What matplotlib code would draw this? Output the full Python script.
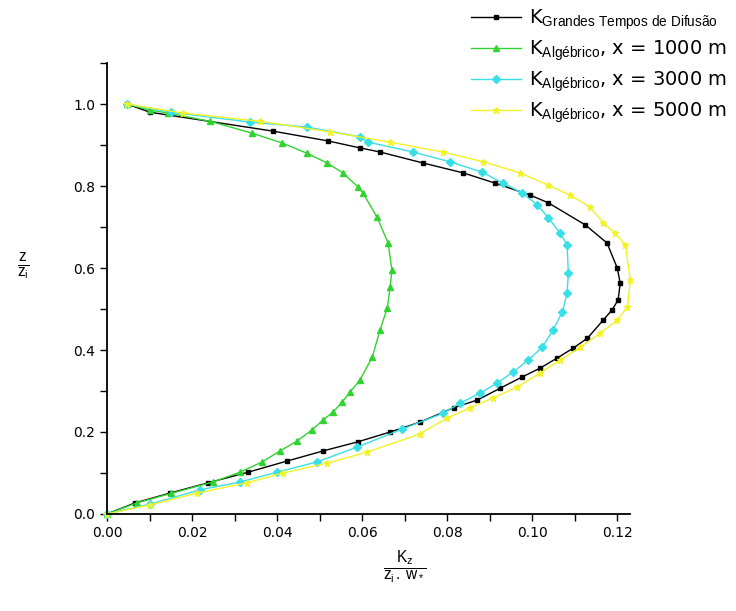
import numpy as np
import matplotlib
matplotlib.use("Agg")
import matplotlib.pyplot as plt
from matplotlib.ticker import MultipleLocator, FormatStrFormatter

plt.rcParams['font.family'] = ['DejaVu Sans']
plt.rcParams['mathtext.fontset'] = 'custom'
plt.rcParams['mathtext.rm'] = 'Liberation Sans'
plt.rcParams['mathtext.it'] = 'Liberation Sans'

# K grandes tempos de difusao (black)
k_gtd = [0.0047, 0.0101, 0.039, 0.052, 0.0595, 0.0642, 0.0744, 0.0838, 0.0913,
         0.0995, 0.1038, 0.1125, 0.1176, 0.120, 0.1207, 0.1202, 0.1188, 0.1167,
         0.113, 0.1097, 0.1058, 0.1019, 0.0976, 0.0925, 0.0871, 0.0815, 0.0736,
         0.0666, 0.059, 0.0509, 0.0423, 0.0332, 0.0238, 0.0148, 0.0066, 0.0]
z_gtd = [1.0, 0.98, 0.934, 0.91, 0.893, 0.883, 0.856, 0.832, 0.807,
         0.778, 0.759, 0.705, 0.661, 0.60, 0.563, 0.522, 0.498, 0.473,
         0.429, 0.405, 0.38, 0.356, 0.334, 0.307, 0.278, 0.259, 0.224,
         0.2, 0.176, 0.154, 0.129, 0.102, 0.076, 0.051, 0.027, 0.0]

# K algebrico x = 1000 m (green)
k_1000 = [0.0047, 0.0101, 0.0144, 0.0242, 0.0341, 0.0412, 0.047, 0.0518, 0.0555,
          0.059, 0.0602, 0.0635, 0.0661, 0.067, 0.0666, 0.0659, 0.0642, 0.0624,
          0.0595, 0.0572, 0.0553, 0.0532, 0.0508, 0.0482, 0.0447, 0.0407, 0.0365,
          0.0313, 0.0249, 0.015, 0.007, 0.0]
z_1000 = [1.0, 0.985, 0.978, 0.958, 0.929, 0.905, 0.88, 0.856, 0.832,
          0.798, 0.783, 0.724, 0.661, 0.595, 0.554, 0.502, 0.449, 0.383,
          0.327, 0.298, 0.273, 0.249, 0.229, 0.205, 0.178, 0.154, 0.127,
          0.102, 0.078, 0.05, 0.027, 0.0]

# K algebrico x = 3000 m (cyan)
k_3000 = [0.0047, 0.015, 0.0336, 0.047, 0.0595, 0.0614, 0.072, 0.0807, 0.0882,
          0.0932, 0.0976, 0.1012, 0.1038, 0.1066, 0.1082, 0.1085, 0.1082, 0.1071,
          0.1049, 0.1024, 0.0991, 0.0955, 0.0918, 0.0878, 0.0831, 0.0791, 0.0694,
          0.0588, 0.0494, 0.040, 0.0313, 0.0219, 0.0101, 0.0]
z_3000 = [1.0, 0.98, 0.956, 0.944, 0.92, 0.907, 0.883, 0.859, 0.834,
          0.807, 0.783, 0.754, 0.722, 0.685, 0.656, 0.588, 0.539, 0.493,
          0.449, 0.407, 0.376, 0.346, 0.32, 0.295, 0.271, 0.246, 0.207,
          0.163, 0.127, 0.102, 0.078, 0.059, 0.024, 0.0]

# K algebrico x = 5000 m (yellow)
k_5000 = [0.0047, 0.0179, 0.036, 0.0525, 0.0666, 0.079, 0.0885, 0.0972, 0.1038,
          0.1089, 0.1136, 0.1167, 0.1195, 0.1219, 0.1231, 0.1224, 0.120, 0.116,
          0.1113, 0.1066, 0.1019, 0.0965, 0.0908, 0.0854, 0.080, 0.0735, 0.0612,
          0.0518, 0.0414, 0.0329, 0.0212, 0.0101, 0.0]
z_5000 = [1.0, 0.978, 0.958, 0.932, 0.907, 0.883, 0.859, 0.832, 0.802,
          0.778, 0.749, 0.71, 0.685, 0.656, 0.571, 0.505, 0.473, 0.441,
          0.407, 0.376, 0.344, 0.31, 0.283, 0.259, 0.234, 0.195, 0.151,
          0.124, 0.1, 0.076, 0.051, 0.022, 0.0]

labels = [r'K$_{\mathrm{Grandes\ Tempos\ de\ Difusão}}$',
          r'K$_{\mathrm{Algébrico}}$, x = 1000 m',
          r'K$_{\mathrm{Algébrico}}$, x = 3000 m',
          r'K$_{\mathrm{Algébrico}}$, x = 5000 m']

fig = plt.figure(figsize=(7.36, 6.11), dpi=100)
ax = fig.add_axes([0.1454, 0.1588, 0.7106, 0.738])

ax.plot(k_gtd, z_gtd, color='black', lw=1, marker='s', ms=3, label=labels[0], clip_on=False)
ax.plot(k_1000, z_1000, color='#2fd42f', lw=1, marker='^', ms=5, label=labels[1], clip_on=False)
ax.plot(k_3000, z_3000, color='#38dfe6', lw=1, marker='D', ms=4, label=labels[2], clip_on=False)
ax.plot(k_5000, z_5000, color='#f2f224', lw=1, marker='*', ms=5, label=labels[3], clip_on=False)

ax.set_xlim(0, 0.123)
ax.set_ylim(0, 1.1)
ax.xaxis.set_major_locator(MultipleLocator(0.02))
ax.xaxis.set_minor_locator(MultipleLocator(0.01))
ax.yaxis.set_major_locator(MultipleLocator(0.2))
ax.yaxis.set_minor_locator(MultipleLocator(0.1))
ax.xaxis.set_major_formatter(FormatStrFormatter('%.2f'))
ax.yaxis.set_major_formatter(FormatStrFormatter('%.1f'))
ax.tick_params(which='major', length=5, width=1, labelsize=10)
ax.tick_params(which='minor', length=5, width=1)
for s in ['top', 'right']:
    ax.spines[s].set_visible(False)
ax.spines['left'].set_linewidth(1.3)
ax.spines['bottom'].set_linewidth(1.3)

fig.text(405 / 736, 1 - 567 / 611, r'$\frac{\mathrm{K_z}}{\mathrm{z_i\,.\,w_*}}$',
         ha='center', va='center', fontsize=16)
fig.text(23 / 736, 1 - 266 / 611, r'$\frac{\mathrm{z}}{\mathrm{z_i}}$',
         ha='center', va='center', fontsize=16)

fig.legend(loc='upper left', bbox_to_anchor=(463 / 736, 1.0), frameon=False,
           fontsize=14, handlelength=2.6, handletextpad=0.4, labelspacing=0.35,
           borderaxespad=0.0)

fig.savefig('out.png', dpi=100)
